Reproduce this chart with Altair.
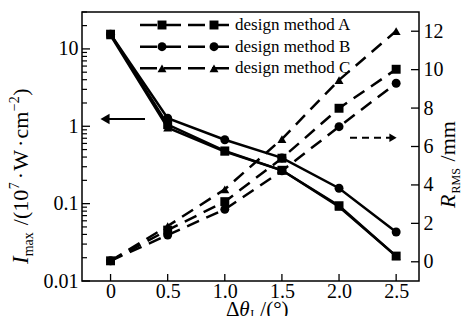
import altair as alt
import pandas as pd

# ---------------- data ----------------
x_vals = [0.0, 0.5, 1.0, 1.5, 2.0, 2.5]
methods = ["design method A", "design method B", "design method C"]
imax_A = [15.5, 1.05, 0.48, 0.27, 0.094, 0.021]
imax_B = [15.5, 1.27, 0.67, 0.39, 0.158, 0.043]
imax_C = [15.0, 0.96, 0.47, 0.27, 0.091, 0.021]
rrms_A = [0.05, 1.65, 3.13, 5.39, 7.99, 10.02]
rrms_B = [0.05, 1.39, 2.73, 4.73, 7.03, 9.29]
rrms_C = [0.05, 1.86, 3.77, 6.39, 9.46, 12.01]
x_ticks = [0.0, 0.5, 1.0, 1.5, 2.0, 2.5]
left_major = [0.01, 0.1, 1, 10]
left_minor = [m * d for d in [0.01, 0.1, 1] for m in range(2, 10)] + [20, 30]
right_ticks = [0, 2, 4, 6, 8, 10, 12]

SERIF = "Liberation Serif"
W, H = 337, 269

rows_I, rows_R = [], []
for m, iv, rv in zip(methods, [imax_A, imax_B, imax_C], [rrms_A, rrms_B, rrms_C]):
    for x, a, b in zip(x_vals, iv, rv):
        rows_I.append({"dt": x, "method": m, "imax": a})
        rows_R.append({"dt": x, "method": m, "rrms": b})
dfI = pd.DataFrame(rows_I)
dfR = pd.DataFrame(rows_R)

xscale = alt.Scale(domain=[-0.25, 2.7], nice=False, zero=False)
yL = alt.Scale(type="log", domain=[0.01, 30], nice=False)
yR = alt.Scale(domain=[-1, 13], nice=False, zero=False)
shape_scale = alt.Scale(domain=methods, range=["square", "circle", "triangle-up"])

LAB = dict(labelFont=SERIF, labelFontSize=20, labelColor="black", title=None,
           ticks=False, domain=False, grid=False)

xaxis = alt.Axis(values=x_ticks,
                 labelExpr="datum.value == 0 ? '0' : format(datum.value, '.1f')",
                 labelPadding=0, **LAB)
X = alt.X("dt:Q", scale=xscale, axis=xaxis)

# ---- left (Imax, log) ----
lineI = alt.Chart(dfI).mark_line(color="black", strokeWidth=2.5).encode(
    x=X,
    y=alt.Y("imax:Q", scale=yL,
            axis=alt.Axis(values=left_major, format="~g", labelPadding=4, **LAB)),
    detail="method:N",
)
ptI = alt.Chart(dfI).mark_point(filled=True, color="black", opacity=1, size=80).encode(
    x=alt.X("dt:Q", scale=xscale), y=alt.Y("imax:Q", scale=yL),
    shape=alt.Shape("method:N", scale=shape_scale, legend=None),
)
one = pd.DataFrame({"k": [0]})
lmaj = alt.Chart(pd.DataFrame({"v": left_major})).mark_rule(color="black", strokeWidth=1.3).encode(
    y=alt.Y("v:Q", scale=yL), x=alt.value(0), x2=alt.value(8))
lmin = alt.Chart(pd.DataFrame({"v": left_minor})).mark_rule(color="black", strokeWidth=1.2).encode(
    y=alt.Y("v:Q", scale=yL), x=alt.value(0), x2=alt.value(5))
xt = alt.Chart(pd.DataFrame({"t": x_ticks})).mark_rule(color="black", strokeWidth=1.3).encode(
    x=alt.X("t:Q", scale=xscale), y=alt.value(H), y2=alt.value(H - 7))

# ---- annotations ----
def txt(s, x, y, size, italic=False, angle=0, align="left", baseline="alphabetic"):
    return alt.Chart(one).mark_text(text=s, font=SERIF, fontSize=size,
                                    fontStyle="italic" if italic else "normal",
                                    angle=angle, align=align, baseline=baseline,
                                    color="black").encode(x=alt.value(x), y=alt.value(y))

WID = {"I": .333, "m": .778, "a": .444, "x": .5, " ": .25, "/": .278, "(": .333, ")": .333,
       "1": .5, "0": .5, "7": .5, "·": .25, "W": .944, "c": .444, "−": .564, "2": .5,
       "R": .64, "M": .889, "S": .556, "Δ": .612, "θ": .5, "°": .4}

def width(s, size):
    return sum(WID.get(ch, .5) for ch in s) * size

ann = []
# pieces: (text, size, italic, baseline shift, gap before)
# left title (rotated, reading upward)
pieces = [("I", 23, True, 0, 0), ("max", 14, False, 5, 0), ("/(10", 22, False, 0, 7),
          ("7", 14, False, -9, 0.5), ("·", 22, False, 0, 3), ("W", 22, False, 0, 3),
          ("·", 22, False, 0, 3), ("cm", 22, False, 0, 3), ("−2", 14, False, -9, 0.5),
          (")", 22, False, 0, 0.5)]
pos = 252
for s, sz, it, sh, gap in pieces:
    pos -= gap
    ann.append(txt(s, -54 + sh, pos, sz, italic=it, angle=270))
    pos -= width(s, sz)
# right title (rotated)
pieces = [("R", 22, True, 0, 0), ("RMS", 12, False, 5, 0.5), ("/mm", 22, False, 0, 7)]
pos = 196
for s, sz, it, sh, gap in pieces:
    pos -= gap
    ann.append(txt(s, 373 + sh, pos, sz, italic=it, angle=270))
    pos -= width(s, sz)
# x title
pieces = [("Δ", 21, False, 0, 0), ("θ", 21, True, 0, 0.5), ("I", 12, False, 2, 0.5),
          ("/(°)", 21, False, 0, 6)]
pos = 144
for s, sz, it, sh, gap in pieces:
    pos += gap
    ann.append(txt(s, pos, 304 + sh, sz, italic=it))
    pos += width(s, sz)

# legend
leg_y = [13, 34.7, 56.3]
shapes = ["square", "circle", "triangle-up"]
for m, yy, shp in zip(methods, leg_y, shapes):
    ann.append(alt.Chart(one).mark_rule(color="black", strokeWidth=2.5, strokeDash=[17, 7]).encode(
        x=alt.value(58), x2=alt.value(150), y=alt.value(yy)))
    for px in [80, 132]:
        ann.append(alt.Chart(one).mark_point(shape=shp, filled=True, color="black", opacity=1,
                                             size=80).encode(x=alt.value(px), y=alt.value(yy)))
    ann.append(txt(m, 153, yy, 17, baseline="middle"))

# arrows
ann.append(alt.Chart(one).mark_rule(color="black", strokeWidth=2).encode(
    x=alt.value(63), x2=alt.value(26), y=alt.value(107)))
ann.append(alt.Chart(one).mark_point(shape="triangle-left", filled=True, color="black", opacity=1,
                                     size=110).encode(x=alt.value(23), y=alt.value(107)))
ann.append(alt.Chart(one).mark_rule(color="black", strokeWidth=2, strokeDash=[7, 5]).encode(
    x=alt.value(268), x2=alt.value(309), y=alt.value(125.7)))
ann.append(alt.Chart(one).mark_point(shape="triangle-right", filled=True, color="black", opacity=1,
                                     size=70).encode(x=alt.value(311), y=alt.value(125.7)))

left = alt.layer(lineI, ptI, lmaj, lmin, xt, *ann)

# ---- right (Rrms) ----
lineR = alt.Chart(dfR).mark_line(color="black", strokeWidth=2.5, strokeDash=[13, 8]).encode(
    x=alt.X("dt:Q", scale=xscale),
    y=alt.Y("rrms:Q", scale=yR,
            axis=alt.Axis(values=right_ticks, format="d", labelPadding=4, orient="right", **LAB)),
    detail="method:N",
)
ptR = alt.Chart(dfR).mark_point(filled=True, color="black", opacity=1, size=80).encode(
    x=alt.X("dt:Q", scale=xscale), y=alt.Y("rrms:Q", scale=yR),
    shape=alt.Shape("method:N", scale=shape_scale, legend=None),
)
rt = alt.Chart(pd.DataFrame({"v": right_ticks})).mark_rule(color="black", strokeWidth=1.3).encode(
    y=alt.Y("v:Q", scale=yR), x=alt.value(W), x2=alt.value(W - 8))
right = alt.layer(lineR, ptR, rt)

chart = alt.layer(left, right).resolve_scale(y="independent").properties(
    width=W, height=H,
    autosize=alt.AutoSizeParams(type="none"),
    padding={"left": 74, "top": 4, "right": 43, "bottom": 35},
).configure_view(stroke="black", strokeWidth=1.5).configure_axis(
    labelFont=SERIF, labelFontSize=20, labelColor="black"
)

chart.save("out.html", embed_options={"renderer": "svg", "actions": False})
